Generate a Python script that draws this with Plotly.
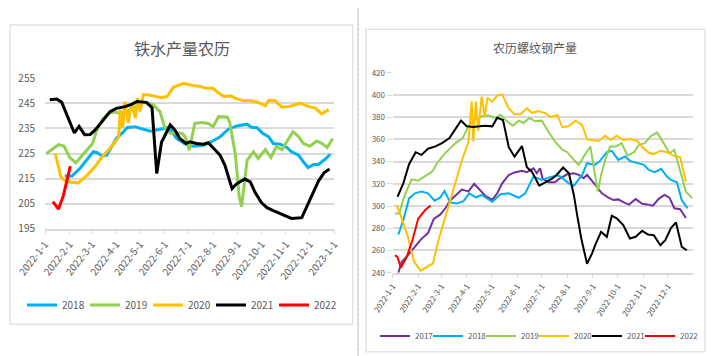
import pandas as pd
import plotly.graph_objects as go

BASE = pd.Timestamp("2022-01-01")

# ---------------- Left chart: 铁水产量农历  (day offset from 2022-01-01, value) ----------------
left_title = "铁水产量农历"
hm_2018 = [(25,216),(34,216),(44,219),(53,222.6),(61,225.7),(66,225.3),(72,224),(78,224.3),(84,227.7),(90,231),
           (97,233),(104,235.4),(114,235.7),(120,235),(133,233.9),(145,234.7),(156,235.4),(166,231),(177,228.7),
           (187,227.9),(200,228.3),(210,229.7),(221,231.7),(231,234.6),(242,236),(255,236.7),(261,235.4),(267,235.4),
           (275,233),(282,231.7),(288,229),(297,228.7),(305,227.4),(311,225.7),(320,224.3),(326,221.7),(332,219.4),
           (339,220.6),(345,220.6),(353,222.6),(360,224.7)]
hm_2019 = [(2,225),(10,227),(17,228.5),(24,228),(31,223.5),(39,221.3),(46,223.8),(54,226.5),(60,229),(65,234),
           (72,238.5),(80,241),(88,241.5),(95,241),(103,241.5),(111,243),(120,245),(128,245.3),(137,244.3),(145,241.7),
           (151,235.5),(158,233),(166,233.3),(173,233),(177,231.7),(182,226.3),(189,237),(198,237.4),(206,237),
           (212,235.7),(219,239.7),(230,239.5),(233,237.5),(240,225),(245,208),(248,203.8),(255,222.3),(263,225.7),
           (269,223),(278,226.6),(285,223.4),(292,227.7),(299,226.6),(305,229.7),(313,233.7),(320,231.7),(326,229),
           (334,227.9),(343,230),(351,228.7),(356,227.4),(363,231)]
hm_2020 = [(13,225),(17,219.7),(20,215.7),(27,213.7),(36,213.3),(42,213.3),(53,216.3),(63,219.7),(72,223.7),
           (80,226.3),(88,229.5),(93,231.5),(95,242.5),(98,235.2),(101,245.7),(105,237.2),(109,245.1),(114,239.2),
           (117,247.1),(120,241.8),(124,248.4),(130,248.4),(141,247.7),(147,247.3),(154,247.7),(162,251.4),(175,253),
           (185,252.2),(196,251.7),(204,251),(212,251),(219,249.1),(226,247.7),(234,248),(242,246.8),(250,246.1),
           (261,246),(269,245.4),(278,244),(282,246.1),(290,246.1),(299,243.5),(309,243.8),(322,245.1),(332,243.8),
           (341,243.1),(349,240.8),(358,242.5)]
hm_2021 = [(6,246.4),(15,246.7),(21,245.5),(27,241),(37,233.2),(43,235.8),(50,232.5),(57,232.6),(63,234.3),
           (72,237.7),(82,241.7),(90,243),(101,243.7),(109,244.6),(116,245.7),(128,245.4),(135,243.3),(141,217),
           (147,229.5),(151,232),(158,236.4),(164,234.3),(170,231),(178,229),(183,229.7),(191,229),(200,228.7),
           (206,229.3),(212,227.4),(221,224.3),(227,220.3),(231,215.7),(236,211),(242,213),(252,214.8),(259,213.7),
           (265,209.5),(273,205.4),(280,203.4),(288,202.2),(297,201),(303,200),(311,199.1),(324,199.4),(330,203.7),
           (337,208.3),(345,214),(352,217.3),(359,218.8)]
hm_2022 = [(10,205.8),(17,202.8),(23,208),(32,220)]
left_series = [("2018", hm_2018), ("2019", hm_2019), ("2020", hm_2020), ("2021", hm_2021), ("2022", hm_2022)]
left_ticks = ["2022-1-1","2022-2-1","2022-3-1","2022-4-1","2022-5-1","2022-6-1","2022-7-1",
              "2022-8-1","2022-9-1","2022-10-1","2022-11-1","2022-12-1","2023-1-1"]

# ---------------- Right chart: 农历螺纹钢产量 ----------------
right_title = "农历螺纹钢产量"
rb_2017 = [(7,240),(11,249.7),(17,254.3),(27,263.3),(35,270.5),(43,275.7),(50,288.5),(58,292.5),(64,298),(70,305),
           (78,311),(84,314.8),(92,313.2),(99,320),(106,314.5),(112,309.5),(121,305.5),(127,311.5),(133,320.5),
           (141,328),(149,330.5),(157,331.7),(163,330.5),(171,334),(175,329.6),(179,334),(182,325),(189,321.4),
           (197,321.4),(203,325),(212,328.6),(220,329.5),(226,328.1),(232,325),(236,328.1),(242,323),(246,319),
           (254,311.5),(262,307.5),(268,305.4),(274,306),(280,303.5),(287,301.3),(295,306.3),(303,302),(309,301.5),
           (316,300.3),(323,306.5),(330,310),(336,307.6),(342,298),(349,297.2),(356,289.3)]
rb_2018 = [(7,274.4),(13,287.3),(20,306.9),(27,311.5),(35,313),(43,311.5),(51,304.8),(58,307.8),(63,313.5),(70,303.3),
           (78,302.4),(86,304.5),(93,311.5),(101,307.8),(108,310),(121,303.9),(131,310.6),(141,311.5),(153,307.5),
           (161,311.5),(171,326.5),(181,323.5),(193,326.5),(202,327.5),(214,320.5),(220,318.4),(230,328),(236,338.6),
           (245,337.1),(251,340.1),(260,348.5),(266,349.7),(274,341.6),(282,344.6),(288,340.7),(297,338.6),(305,337.1),
           (311,332.6),(318,330.5),(326,333.5),(333,326.6),(338,323.5),(345,321.4),(351,305.4),(358,297.9)]
rb_2019 = [(3,293.4),(8,293.4),(14,308.4),(23,324.1),(31,322.9),(39,326.5),(48,331),(54,338.6),(62,346.1),(70,352.2),
           (78,357.6),(85,361.2),(92,371.8),(100,377.8),(108,380.8),(116,381.7),(125,379.3),(131,382.3),(139,376.3),
           (146,372.4),(153,376.9),(159,374.8),(166,379.3),(173,376.3),(181,376.9),(189,367.2),(197,358.2),(206,350.7),
           (212,348.5),(220,341.6),(226,337.1),(232,344.6),(240,353.7),(249,313),(254,331),(260,346.1),(264,353.7),
           (271,353.7),(278,356.7),(285,345.5),(293,348.5),(299,355.2),(306,356.7),(313,362.7),(321,366.3),
           (329,356.7),(336,347.6),(342,350.7),(349,331.7),(356,313),(364,306.9)]
rb_2020 = [(5,300.9),(11,289),(19,271),(26,250),(34,241.8),(42,245.2),(49,248.3),(56,270),(66,294.9),(76,320.5),
           (85,343),(92,357.6),(96,394.4),(98,358.2),(101,394),(104,368),(108,398.5),(112,381),(115,397.5),(121,394),
           (127,399.4),(133,400.6),(141,388),(148,382.6),(155,382.6),(163,388),(169,384),(177,385.6),(186,383.5),
           (192,380),(200,382),(206,371),(214,372),(222,376.9),(230,373),(236,360),(244,359.5),(250,358.6),(258,363.4),
           (265,359.5),(272,363.4),(280,359.5),(288,360.3),(297,358.5),(304,352.5),(311,348),(317,346.8),(325,349.7),
           (333,348.4),(341,345.4),(349,344.2),(356,322)]
rb_2021 = [(6,308.4),(13,320.5),(20,337.7),(28,348.5),(35,346.1),(43,351.6),(52,353.7),(60,356.7),(69,361.2),
           (76,368.7),(83,376.9),(90,371.8),(98,371.2),(106,371.8),(112,372.4),(121,371.8),(127,379.5),(134,377.5),
           (141,353),(148,344.5),(157,354),(163,335),(169,331),(178,318.4),(185,321.4),(193,324.4),(199,328),
           (207,334.7),(214,329.5),(220,310),(224,291.9),(229,270.8),(236,248.1),(242,257.2),(246,265),(253,276.8),
           (260,272.3),(266,291.3),(272,288.9),(280,282.9),(288,270.8),(295,272.3),(303,277.7),(310,274.4),
           (317,273.8),(325,264.7),(331,269.2),(338,280.4),(344,285.2),(351,263.2),(357,260.2)]
rb_2022 = [(3,255.8),(6,254),(10,244.5),(17,254),(24,269),(31,288.5),(39,296),(46,300.5)]
right_series = [("2017", rb_2017), ("2018", rb_2018), ("2019", rb_2019), ("2020", rb_2020),
                ("2021", rb_2021), ("2022", rb_2022)]
right_ticks = left_ticks[:-1]

colors = {"2017": "#7030A0", "2018": "#00B0F0", "2019": "#92D050",
          "2020": "#FFC000", "2021": "#000000", "2022": "#FF0000"}

# the page body has an 8px margin, so the figure is placed at (8, 8) of the window
OX, OY = 8, 8
W, H = 711, 348
def fx(x): return (x - OX) / W
def fy(y): return 1 - (y - OY) / H

FONT = "Noto Sans CJK SC, Noto Sans, sans-serif"
GRID = "#d9d9d9"
TXT = "#595959"

def to_dates(pairs):
    return [BASE + pd.Timedelta(days=d) for d, _ in pairs], [v for _, v in pairs]

fig = go.Figure()
legends = {}
n = 0
for i, (name, pairs) in enumerate(left_series):
    n += 1
    key = "legend" if n == 1 else f"legend{n}"
    xs, ys = to_dates(pairs)
    fig.add_trace(go.Scatter(x=xs, y=ys, mode="lines", name=name, xaxis="x", yaxis="y",
                             line=dict(color=colors[name], width=3), legend=key, showlegend=True))
    legends[key] = dict(x=fx(22 + 63 * i), y=fy(305), xanchor="left", yanchor="middle",
                        font=dict(size=10, color=TXT), bgcolor="rgba(0,0,0,0)", borderwidth=0)
for i, (name, pairs) in enumerate(right_series):
    n += 1
    key = f"legend{n}"
    xs, ys = to_dates(pairs)
    fig.add_trace(go.Scatter(x=xs, y=ys, mode="lines", name=name, xaxis="x2", yaxis="y2",
                             line=dict(color=colors[name], width=2), legend=key, showlegend=True))
    legends[key] = dict(x=fx(375 + 53 * i), y=fy(336), xanchor="left", yanchor="middle",
                        font=dict(size=8, color=TXT), bgcolor="rgba(0,0,0,0)", borderwidth=0)

fig.update_layout(
    width=W, height=H, margin=dict(l=0, r=0, t=0, b=0, autoexpand=False),
    showlegend=True,
    paper_bgcolor="white", plot_bgcolor="white",
    font=dict(family=FONT, color=TXT),
    xaxis=dict(domain=[fx(45), fx(334.3)], range=[BASE, pd.Timestamp(left_ticks[-1])],
               tickvals=pd.to_datetime(left_ticks), ticktext=left_ticks, tickangle=-52,
               tickfont=dict(size=10, color=TXT), showgrid=False, showline=True, linecolor=GRID,
               linewidth=1.5, ticks="outside", ticklen=4, tickcolor=GRID, zeroline=False, automargin=False),
    yaxis=dict(domain=[fy(228.7), fy(78.3)], range=[195, 255], tick0=195, dtick=10,
               tickfont=dict(size=10, color=TXT), showgrid=True, gridcolor=GRID, gridwidth=1.5,
               zeroline=False, ticks="", ticklabelstandoff=9, automargin=False),
    xaxis2=dict(domain=[fx(392.6), fx(692.5)], range=[BASE, pd.Timestamp("2022-12-31")],
                tickvals=pd.to_datetime(right_ticks), ticktext=right_ticks, tickangle=-57,
                tickfont=dict(size=8, color=TXT), showgrid=False, showline=True, linecolor=GRID,
                linewidth=1.5, ticks="outside", ticklen=4, tickcolor=GRID, zeroline=False,
                anchor="y2", automargin=False),
    yaxis2=dict(domain=[fy(272.7), fy(72.8)], range=[240, 420], tick0=240, dtick=20,
                tickfont=dict(size=8, color=TXT), showgrid=True, gridcolor=GRID, gridwidth=1.5,
                zeroline=False, ticks="outside", ticklen=5, tickcolor=GRID, anchor="x2", automargin=False),
    annotations=[
        dict(text=left_title, x=fx(181.7), y=fy(48), xref="paper", yref="paper",
             showarrow=False, font=dict(size=16, color=TXT), xanchor="center", yanchor="middle"),
        dict(text=right_title, x=fx(535), y=fy(48), xref="paper", yref="paper",
             showarrow=False, font=dict(size=12, color=TXT), xanchor="center", yanchor="middle"),
    ],
    shapes=[
        dict(type="rect", xref="paper", yref="paper", x0=fx(3), x1=fx(358), y0=fy(362), y1=fy(3),
             line=dict(color="#c0c0c0", width=1, dash="3px,2px")),
        dict(type="rect", xref="paper", yref="paper", x0=fx(358), x1=fx(714), y0=fy(362), y1=fy(3),
             line=dict(color="#c0c0c0", width=1, dash="3px,2px")),
        dict(type="rect", xref="paper", yref="paper", x0=fx(10), x1=fx(352.7), y0=fy(324.3), y1=fy(25),
             line=dict(color="#e3e3e3", width=1.5)),
        dict(type="rect", xref="paper", yref="paper", x0=fx(366), x1=fx(705), y0=fy(351.7), y1=fy(29.3),
             line=dict(color="#e3e3e3", width=1.5)),
    ],
    **legends,
)

fig.write_html("out.html")
